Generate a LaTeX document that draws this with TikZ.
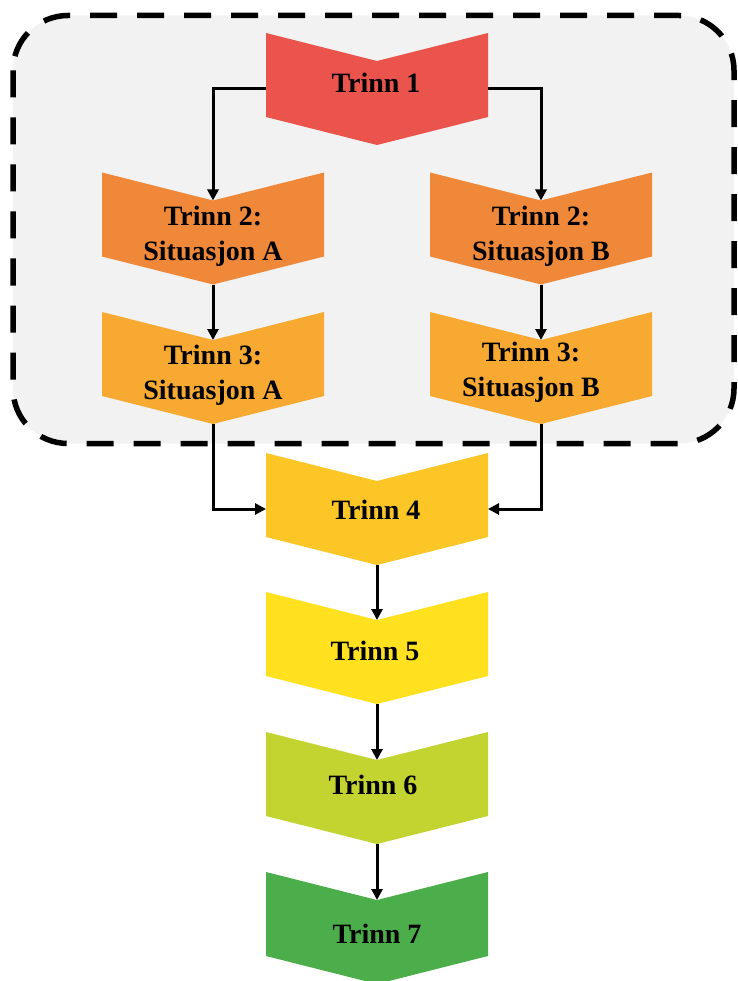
\documentclass[tikz,border=0pt]{standalone}
\usepackage{fontspec}
\setmainfont{Liberation Serif}
\usetikzlibrary{arrows.meta}
\definecolor{grpfill}{HTML}{F2F2F2}
\definecolor{cA}{HTML}{EA544C}
\definecolor{cB}{HTML}{F0883A}
\definecolor{cC}{HTML}{F7A932}
\definecolor{cD}{HTML}{FCC626}
\definecolor{cE}{HTML}{FFE120}
\definecolor{cF}{HTML}{C3D330}
\definecolor{cG}{HTML}{4BAE4A}
\tikzset{
  lbl/.style={font=\fontsize{28}{35}\selectfont\bfseries, align=center, inner sep=0pt},
  conn/.style={line width=3pt, -{Triangle[length=11pt,width=11pt]}},
  grp/.style={fill=grpfill, draw=black, line width=5.5pt, dash pattern=on 27pt off 20pt, rounded corners=55pt}
}
\newcommand\chevshape[4]{%
  \fill[#4] (#2-111,#3) -- (#2,#3+28) -- (#2+111,#3) -- (#2+111,#3+84) -- (#2,#3+112) -- (#2-111,#3+84) -- cycle;
  \coordinate (#1-n) at (#2,#3+28);
  \coordinate (#1-s) at (#2,#3+112);
  \coordinate (#1-w) at (#2-111,#3+56);
  \coordinate (#1-e) at (#2+111,#3+56);
}
\begin{document}
\begin{tikzpicture}[x=1pt,y=-1pt]
\clip (0,0) rectangle (737,981);
\fill[white] (0,0) rectangle (737,981);
\path[grp] (13,15.5) rectangle (734,443.5);
\chevshape{s1}{377}{33}{cA}
\chevshape{s2a}{213}{172.5}{cB}
\chevshape{s2b}{541}{172.5}{cB}
\chevshape{s3a}{213}{312}{cC}
\chevshape{s3b}{541}{312}{cC}
\chevshape{s4}{377}{453}{cD}
\chevshape{s5}{377}{592}{cE}
\chevshape{s6}{377}{732}{cF}
\chevshape{s7}{377}{872}{cG}
\node[lbl] (t1) at (376,83) {Trinn 1};
\node[lbl] (t2a) at (213,236.5) {Trinn 2:\\Situasjon A};
\node[lbl] (t2b) at (541,236.5) {Trinn 2:\\Situasjon B};
\node[lbl] (t3a) at (213,375) {Trinn 3:\\Situasjon A};
\node[lbl] (t3b) at (531,372) {Trinn 3:\\Situasjon B};
\node[lbl] (t4) at (376,510) {Trinn 4};
\node[lbl] (t5) at (375,651) {Trinn 5};
\node[lbl] (t6) at (373,785) {Trinn 6};
\node[lbl] (t7) at (377,934) {Trinn 7};
\draw[conn] (s1-w) -| (s2a-n);
\draw[conn] (s1-e) -| (s2b-n);
\draw[conn] (s2a-s) -- (s3a-n);
\draw[conn] (s2b-s) -- (s3b-n);
\draw[conn] (s3a-s) |- (s4-w);
\draw[conn] (s3b-s) |- (s4-e);
\draw[conn] (s4-s) -- (s5-n);
\draw[conn] (s5-s) -- (s6-n);
\draw[conn] (s6-s) -- (s7-n);
\end{tikzpicture}
\end{document}
